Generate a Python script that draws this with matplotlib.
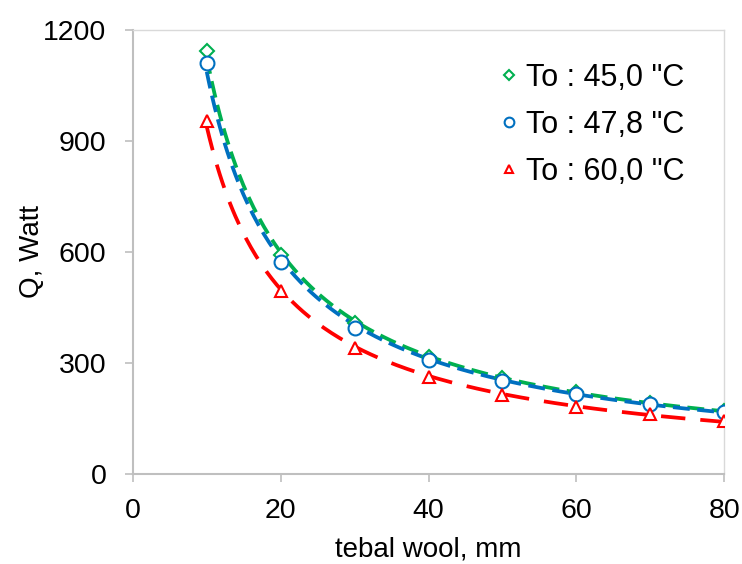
import numpy as np
import matplotlib
matplotlib.use("Agg")
import matplotlib.pyplot as plt

plt.rcParams['font.family'] = ['Liberation Sans', 'DejaVu Sans']

# tebal wool (mm) dan Q (Watt)
tebal = np.array([10, 20, 30, 40, 50, 60, 70, 80], dtype=float)
q_45 = np.array([1142, 592, 407, 317, 260, 222, 192, 170], dtype=float)
q_478 = np.array([1110, 573, 395, 308, 251, 217, 190, 168], dtype=float)
q_60 = np.array([954, 495, 340, 262, 214, 181, 162, 143], dtype=float)

labels = ['To : 45,0 "C', 'To : 47,8 "C', 'To : 60,0 "C']
warna = ['#00B050', '#0070C0', '#FF0000']
marker = ['D', 'o', '^']
msize = [7, 10, 9]
dash = [(4.5, 2.0), (4.5, 2.0), (6.5, 4.0)]


def power_fit(x, y):
    # trendline power: y = a * x^b
    b, loga = np.polyfit(np.log(x), np.log(y), 1)
    xs = np.linspace(x.min(), x.max(), 200)
    return xs, np.exp(loga) * xs ** b


fig = plt.figure(figsize=(7.42, 5.64), dpi=100)
ax = fig.add_axes([0.179, 0.1596, 0.797, 0.788])

series = [q_45, q_478, q_60]
for i in range(3):
    xs, ys = power_fit(tebal, series[i])
    ax.plot(xs, ys, color=warna[i], lw=2.7, dashes=dash[i], zorder=2)
for i in range(3):
    ax.plot(tebal, series[i], linestyle='none', marker=marker[i], ms=msize[i],
            mfc='white', mec=warna[i], mew=1.5, label=labels[i], zorder=3)

ax.set_xlim(0, 80)
ax.set_ylim(0, 1200)
ax.set_xticks([0, 20, 40, 60, 80])
ax.set_yticks([0, 300, 600, 900, 1200])
ax.tick_params(labelsize=20.5, direction='out', length=6, width=1.2, color='#BFBFBF')
ax.tick_params(axis='y', pad=13)
ax.tick_params(axis='x', pad=11)
ax.tick_params(top=False, right=False)

for s in ['left', 'bottom']:
    ax.spines[s].set_color('#BFBFBF')
    ax.spines[s].set_linewidth(1.5)
for s in ['top', 'right']:
    ax.spines[s].set_color('#D9D9D9')
    ax.spines[s].set_linewidth(1.0)

ax.set_xlabel('tebal wool, mm', fontsize=20, labelpad=9)
ax.set_ylabel('Q, Watt', fontsize=20, labelpad=-1)

leg = ax.legend(loc='upper right', fontsize=22, frameon=False, handletextpad=0.05,
                markerscale=0.7, handlelength=1.0, labelspacing=0.55,
                borderaxespad=0.7, bbox_to_anchor=(0.99, 1.0))

fig.savefig('out.png', dpi=100)
